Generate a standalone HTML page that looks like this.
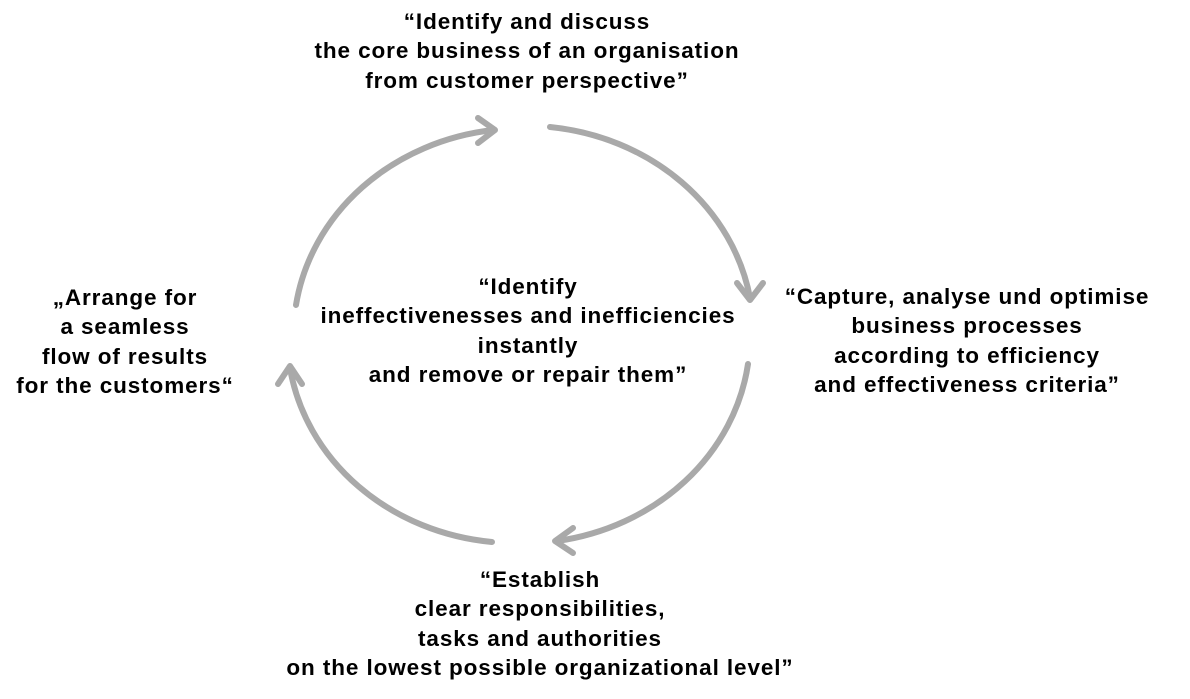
<!DOCTYPE html>
<html><head><style>
html,body{margin:0;padding:0;background:#fff;}
body{width:1190px;height:699px;position:relative;overflow:hidden;font-family:"Liberation Sans",sans-serif;font-weight:bold;font-size:22.5px;color:#000;}
.t{position:absolute;text-align:center;line-height:29.3px;white-space:nowrap;letter-spacing:0.9px;transform:translateX(-50%);}
svg{position:absolute;left:0;top:0;}
</style></head><body>
<svg width="1190" height="699" viewBox="0 0 1190 699">
<g fill="none" stroke="#a9a9a9" stroke-width="6" stroke-linecap="round" stroke-linejoin="round">
<path d="M296,305 A228 207 0 0 1 493,130"/>
<path d="M478,118 L495,130 L478,143"/>
<path d="M550,127 A228 207 0 0 1 750,298"/>
<path d="M737,283 L750,300 L763,283"/>
<path d="M748,364 A228 207 0 0 1 557,541"/>
<path d="M573,528 L555,541 L573,553"/>
<path d="M492,542 A228 207 0 0 1 290,368"/>
<path d="M278,384 L290,366 L302,384"/>
</g>
</svg>
<div class="t" style="left:527px;top:7px;">“Identify and discuss<br>the core business of an organisation<br>from customer perspective”</div>
<div class="t" style="left:528px;top:272px;">“Identify<br>ineffectivenesses and inefficiencies<br>instantly<br>and remove or repair them”</div>
<div class="t" style="left:967px;top:282px;">“Capture, analyse und optimise<br>business processes<br>according to efficiency<br>and effectiveness criteria”</div>
<div class="t" style="left:125px;top:283px;">„Arrange for<br>a seamless<br>flow of results<br>for the customers“</div>
<div class="t" style="left:540px;top:565px;">“Establish<br>clear responsibilities,<br>tasks and authorities<br>on the lowest possible organizational level”</div>
</body></html>
